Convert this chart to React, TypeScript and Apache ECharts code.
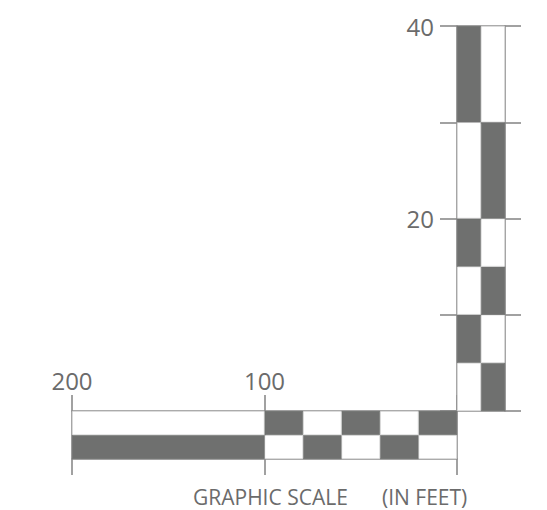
import React, { useEffect, useRef } from "react";
import * as echarts from "echarts";

// Horizontal scale (feet): segment lengths from 0 outward
const hSegments = [20, 20, 20, 20, 20, 100];
// true = dark on top row
const hTopDark = [true, false, true, false, true, false];
const hRows = ["bottom", "top"];
const hTicks = [0, 100, 200];

// Vertical scale (feet): segment lengths from 0 upward
const vSegments = [5, 5, 5, 5, 10, 10];
// true = dark in left column
const vLeftDark = [false, true, false, true, false, true];
const vCols = ["left", "right"];
const vLabels = [20, 40];

const captionMain = "GRAPHIC SCALE";
const captionUnit = "(IN FEET)";

const DARK = "#6f706f";
const LIGHT = "#ffffff";
const LINE = "#8a8a8a";
const TEXT = "#6b6b6b";
const FONT = "'Open Sans', 'Noto Sans', sans-serif";

export default function App() {
  const ref = useRef<HTMLDivElement>(null);
  useEffect(() => {
    document.body.style.margin = "0";
    if (!ref.current) return;
    const chart = echarts.init(ref.current, undefined, { renderer: "svg" });

    const hSeries = hSegments.map((len, i) => ({
      type: "bar",
      name: "h" + i,
      xAxisIndex: 0,
      yAxisIndex: 0,
      stack: "h",
      barWidth: "100%",
      barCategoryGap: "0%",
      data: [
        { value: len, itemStyle: { color: hTopDark[i] ? LIGHT : DARK, borderColor: hTopDark[i] ? "#cfcfcf" : DARK, borderWidth: 0.6 } },
        { value: len, itemStyle: { color: hTopDark[i] ? DARK : LIGHT, borderColor: hTopDark[i] ? DARK : "#cfcfcf", borderWidth: 0.6 } },
      ],
      silent: true,
    }));

    const vSeries = vSegments.map((len, i) => ({
      type: "bar",
      name: "v" + i,
      xAxisIndex: 2,
      yAxisIndex: 1,
      stack: "v",
      barWidth: "100%",
      barCategoryGap: "0%",
      data: [
        { value: len, itemStyle: { color: vLeftDark[i] ? DARK : LIGHT, borderColor: vLeftDark[i] ? DARK : "#cfcfcf", borderWidth: 0.6 } },
        { value: len, itemStyle: { color: vLeftDark[i] ? LIGHT : DARK, borderColor: vLeftDark[i] ? "#cfcfcf" : DARK, borderWidth: 0.6 } },
      ],
      silent: true,
    }));

    const lineStyle = { color: LINE, width: 1.6 };

    chart.setOption({
      animation: false,
      grid: [
        { left: 72, right: 90, top: 411, height: 48 },
        { left: 457, width: 48, top: 26, height: 385 },
      ],
      xAxis: [
        {
          gridIndex: 0,
          type: "value",
          position: "top",
          inverse: true,
          min: 0,
          max: 200,
          interval: 100,
          axisLine: { show: true, lineStyle },
          axisTick: { show: true, length: 16, lineStyle },
          splitLine: { show: true, lineStyle },
          axisLabel: {
            margin: 19,
            fontSize: 24,
            color: TEXT,
            fontFamily: FONT,
            formatter: (v: number) => (hTicks.includes(v) && v !== 0 ? String(v) : ""),
          },
        },
        {
          gridIndex: 0,
          type: "value",
          position: "bottom",
          inverse: true,
          min: 0,
          max: 200,
          interval: 100,
          axisLine: { show: true, lineStyle },
          axisTick: { show: true, length: 16, lineStyle },
          splitLine: { show: false },
          axisLabel: { show: false },
        },
        {
          gridIndex: 1,
          type: "category",
          data: vCols,
          axisLine: { show: false },
          axisTick: { show: false },
          axisLabel: { show: false },
        },
      ],
      yAxis: [
        {
          gridIndex: 0,
          type: "category",
          data: hRows,
          axisLine: { show: false },
          axisTick: { show: false },
          axisLabel: { show: false },
        },
        {
          gridIndex: 1,
          type: "value",
          position: "left",
          min: 0,
          max: 40,
          interval: 10,
          axisLine: { show: true, lineStyle },
          axisTick: { show: true, length: 17, lineStyle },
          splitLine: { show: true, lineStyle },
          axisLabel: {
            margin: 23,
            fontSize: 24,
            color: TEXT,
            fontFamily: FONT,
            formatter: (v: number) => (vLabels.includes(v) ? String(v) : ""),
          },
        },
        {
          gridIndex: 1,
          type: "value",
          position: "right",
          min: 0,
          max: 40,
          interval: 10,
          axisLine: { show: true, lineStyle },
          axisTick: { show: true, length: 16, lineStyle },
          splitLine: { show: false },
          axisLabel: { show: false },
        },
      ],
      series: [
        ...hSeries,
        ...vSeries,
        // empty series that bind the bottom x axis and the right y axis
        { type: "line", xAxisIndex: 1, yAxisIndex: 0, data: [], silent: true },
        { type: "line", xAxisIndex: 2, yAxisIndex: 2, data: [], silent: true },
      ],
      graphic: [
        {
          type: "text",
          left: 193,
          top: 486,
          style: { text: captionMain, fontSize: 21, fill: TEXT, fontFamily: FONT },
          silent: true,
        },
        {
          type: "text",
          left: 382,
          top: 486,
          style: { text: captionUnit, fontSize: 21, fill: TEXT, fontFamily: FONT },
          silent: true,
        },
      ],
    });
    return () => chart.dispose();
  }, []);
  return <div ref={ref} style={{ width: 547, height: 510 }} />;
}
